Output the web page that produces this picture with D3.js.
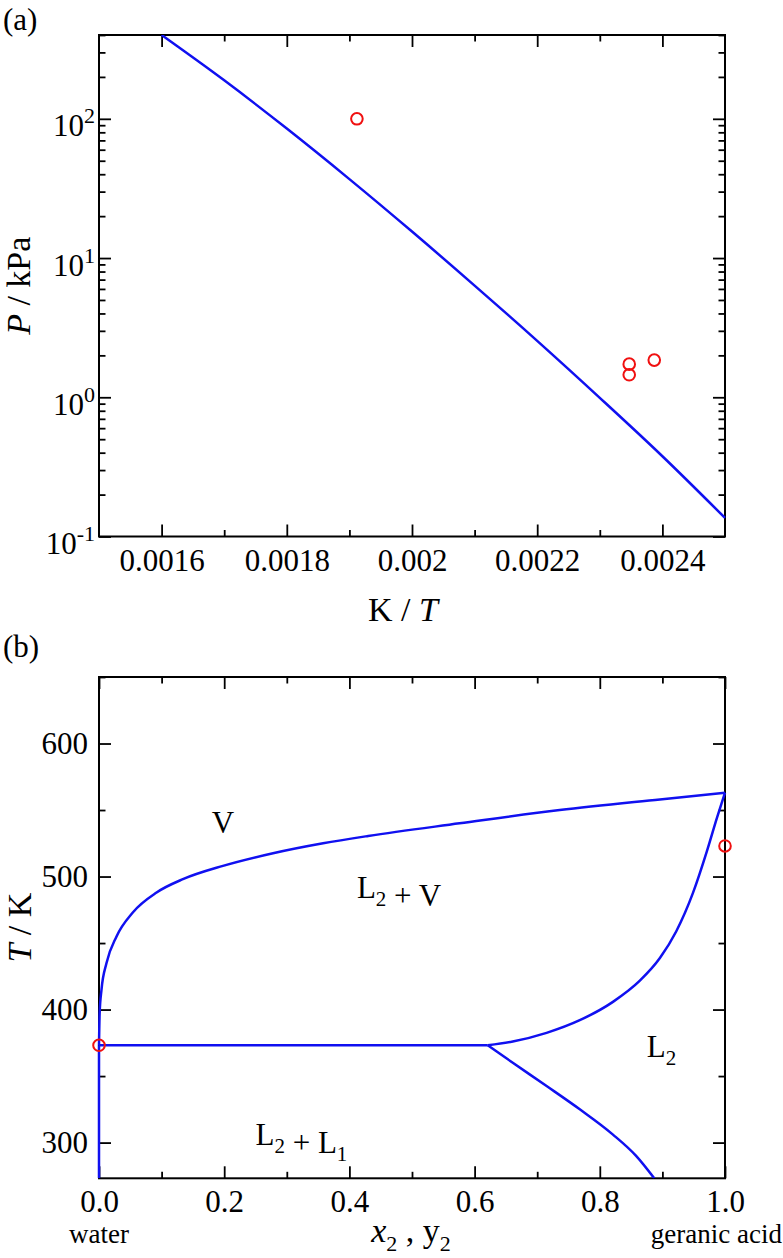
<!DOCTYPE html>
<html>
<head>
<meta charset="utf-8">
<script src="https://cdn.jsdelivr.net/npm/d3@7"></script>
<style>
  body { margin: 0; background: #fff; }
  svg { display: block; }
  text { font-family: "Liberation Serif", "Times New Roman", serif; fill: #000; }
  .tick line { stroke: #000; stroke-width: 1.8px; }
  .frame { fill: none; stroke: #000; stroke-width: 2px; }
  .curve { fill: none; stroke: #1010f0; stroke-width: 2.5px; }
  .pt { fill: none; stroke: #f01010; stroke-width: 2px; }
</style>
</head>
<body>
<script>
// ---- panel (a): vapour pressure of geranic acid ----
const invT = [0.0016, 0.0017, 0.0018, 0.0019, 0.0020, 0.0021, 0.0022, 0.0023, 0.0024, 0.0025];
const pModel = [400, 189, 85.1, 36.9, 15.5, 6.34, 2.54, 0.99, 0.377, 0.136];
const expInvT = [0.001912, 0.002347, 0.002347, 0.002387];
const expP = [100, 1.73, 1.45, 1.85];
const xTicksA = [0.0016, 0.0018, 0.0020, 0.0022, 0.0024];
const xMinorA = [0.0017, 0.0019, 0.0021, 0.0023];
const yTicksA = [0.1, 1, 10, 100];

// ---- panel (b): T-x diagram water / geranic acid ----
const dewX = [0, 0.001, 0.004, 0.012, 0.028, 0.054, 0.092, 0.134, 0.198, 0.278, 0.358, 0.43, 0.576, 0.736, 0.896, 1.0];
const dewT = [373.15, 397, 415, 435, 455, 473, 488, 498, 508, 517.5, 525, 530.5, 540, 550, 558, 563];
const bubX = [0.621, 0.661, 0.715, 0.768, 0.821, 0.864, 0.896, 0.922, 0.949, 0.971, 0.987, 1.0];
const bubT = [373.15, 376, 382.5, 392, 405.8, 421.7, 438.7, 458.7, 487.9, 518.9, 543.9, 563];
const llX = [0.621, 0.661, 0.715, 0.768, 0.821, 0.858, 0.887];
const llT = [373.15, 360, 342.5, 325, 306, 290, 273.15];
const vleX = [0, 0.621];
const vleT = [373.15, 373.15];
const l1X = [0, 0];
const l1T = [373.15, 273.15];
const expX = [0, 1.0];
const expT = [373.15, 523];
const xTicksB = [0, 0.2, 0.4, 0.6, 0.8, 1.0];
const xMinorB = [0.1, 0.3, 0.5, 0.7, 0.9];
const yTicksB = [300, 400, 500, 600];
const yMinorB = [350, 450, 550, 650];

const W = 783, H = 1258;
const TICK_FONT = "31px";
const MAJOR = 12, MINOR = 6.5;

// plot boxes
var boxA = { left: 99, top: 35, width: 626, height: 501.5 },
    boxB = { left: 99, top: 677, width: 626, height: 501.3 };

const svg = d3.select("body").append("svg")
    .attr("width", W)
    .attr("height", H);

function zip(a, b) {
    return a.map(function (d, i) { return [d, b[i]]; });
}

// ticks on all four sides, pointing inwards
function drawTicks(g, x, y, box, opts) {
    var bottom = g.append("g").attr("transform", "translate(0," + box.height + ")")
        .call(d3.axisBottom(x).tickValues(opts.xMajor).tickSize(-MAJOR).tickPadding(12).tickFormat(opts.xFormat));
    bottom.style("font-size", TICK_FONT);
    g.append("g").attr("transform", "translate(0," + box.height + ")")
        .call(d3.axisBottom(x).tickValues(opts.xMinor).tickSize(-MINOR).tickFormat(""));
    g.append("g").call(d3.axisTop(x).tickValues(opts.xMajor).tickSize(-MAJOR).tickFormat(""));
    g.append("g").call(d3.axisTop(x).tickValues(opts.xMinor).tickSize(-MINOR).tickFormat(""));

    var left = g.append("g")
        .call(d3.axisLeft(y).tickValues(opts.yMajor).tickSize(-MAJOR).tickPadding(opts.yPad).tickFormat(opts.yFormat));
    left.style("font-size", TICK_FONT);
    g.append("g").call(d3.axisLeft(y).tickValues(opts.yMinor).tickSize(-MINOR).tickFormat(""));
    g.append("g").attr("transform", "translate(" + box.width + ",0)")
        .call(d3.axisRight(y).tickValues(opts.yMajor).tickSize(-MAJOR).tickFormat(""));
    g.append("g").attr("transform", "translate(" + box.width + ",0)")
        .call(d3.axisRight(y).tickValues(opts.yMinor).tickSize(-MINOR).tickFormat(""));

    g.selectAll(".domain").remove();
    g.selectAll("text").attr("font-family", null).attr("fill", null);
    g.append("rect").attr("class", "frame")
        .attr("width", box.width).attr("height", box.height);
    return left;
}

function clipFor(g, id, box) {
    g.append("clipPath").attr("id", id)
        .append("rect").attr("x", -3).attr("y", 0)
        .attr("width", box.width + 6).attr("height", box.height);
}

// ================= (a) =================
var gA = svg.append("g").attr("transform", "translate(" + boxA.left + "," + boxA.top + ")");
var xA = d3.scaleLinear().domain([0.0015, 0.0025]).range([0, boxA.width]);
var yA = d3.scaleLog().domain([0.1, 400]).range([boxA.height, 0]);

var yMinorA = [];
[0.1, 1, 10, 100].forEach(function (dec) {
    for (var k = 2; k <= 9; k++) {
        if (k * dec <= 400) yMinorA.push(k * dec);
    }
});

var leftA = drawTicks(gA, xA, yA, boxA, {
    xMajor: xTicksA, xMinor: xMinorA,
    xFormat: function (d) { return String(+d.toFixed(4)); },
    yMajor: yTicksA, yMinor: yMinorA, yPad: 4,
    yFormat: function () { return ""; }
});

// 10^n labels with superscript
leftA.selectAll(".tick").each(function (d) {
    var t = d3.select(this).select("text")
        .attr("dy", null).attr("y", 17).attr("x", -4)
        .attr("text-anchor", "end");
    t.append("tspan").text("10");
    t.append("tspan").attr("dy", -13).style("font-size", "22px")
        .text(Math.round(Math.log10(d)));
});

clipFor(gA, "clipA", boxA);
var lineA = d3.line()
    .x(function (d) { return xA(d[0]); })
    .y(function (d) { return yA(d[1]); })
    .curve(d3.curveMonotoneX);

gA.append("path").datum(zip(invT, pModel))
    .attr("class", "curve").attr("clip-path", "url(#clipA)")
    .attr("d", lineA);

gA.selectAll(".pt").data(zip(expInvT, expP)).enter()
    .append("circle").attr("class", "pt").attr("r", 5.8)
    .attr("cx", function (d) { return xA(d[0]); })
    .attr("cy", function (d) { return yA(d[1]); });

// axis titles (a)
var tA = svg.append("text").attr("x", 403).attr("y", 621)
    .attr("text-anchor", "middle").style("font-size", "34px");
tA.append("tspan").text("K / ");
tA.append("tspan").style("font-style", "italic").text("T");

var pA = svg.append("text")
    .attr("transform", "translate(30," + (boxA.top + boxA.height / 2) + ") rotate(-90)")
    .attr("text-anchor", "middle").style("font-size", "34px");
pA.append("tspan").style("font-style", "italic").text("P");
pA.append("tspan").text(" / kPa");

svg.append("text").attr("x", 3).attr("y", 30).style("font-size", "31px").text("(a)");

// ================= (b) =================
var gB = svg.append("g").attr("transform", "translate(" + boxB.left + "," + boxB.top + ")");
var xB = d3.scaleLinear().domain([0, 1]).range([0, boxB.width]);
var yB = d3.scaleLinear().domain([273.15, 650]).range([boxB.height, 0]);

drawTicks(gB, xB, yB, boxB, {
    xMajor: xTicksB, xMinor: xMinorB,
    xFormat: d3.format(".1f"),
    yMajor: yTicksB, yMinor: yMinorB, yPad: 11,
    yFormat: d3.format("d")
});

clipFor(gB, "clipB", boxB);
var lineB = d3.line()
    .x(function (d) { return xB(d[0]); })
    .y(function (d) { return yB(d[1]); })
    .curve(d3.curveMonotoneX);

[zip(dewX, dewT), zip(bubX, bubT), zip(llX, llT), zip(vleX, vleT)].forEach(function (s) {
    gB.append("path").datum(s)
        .attr("class", "curve").attr("clip-path", "url(#clipB)")
        .attr("d", lineB);
});
// vertical L1 boundary (x = 0) drawn straight
gB.append("path").datum(zip(l1X, l1T))
    .attr("class", "curve").attr("clip-path", "url(#clipB)")
    .attr("d", d3.line().x(function (d) { return xB(d[0]); }).y(function (d) { return yB(d[1]); }));

gB.selectAll(".pt").data(zip(expX, expT)).enter()
    .append("circle").attr("class", "pt").attr("r", 5.8)
    .attr("cx", function (d) { return xB(d[0]); })
    .attr("cy", function (d) { return yB(d[1]); });

// phase region labels
function phaseLabel(x, t, parts) {
    var el = gB.append("text").attr("x", xB(x)).attr("y", yB(t)).style("font-size", "31px");
    parts.forEach(function (p) {
        if (p.sub) {
            el.append("tspan").attr("dy", 8).style("font-size", "21px").text(p.sub);
            el.append("tspan").attr("dy", -8).text("");
        } else {
            el.append("tspan").text(p.t);
        }
    });
}
phaseLabel(0.18, 532.7, [{ t: "V" }]);
phaseLabel(0.412, 483.8, [{ t: "L" }, { sub: "2" }, { t: "\u00a0+ V" }]);
phaseLabel(0.875, 364.4, [{ t: "L" }, { sub: "2" }]);
phaseLabel(0.25, 298, [{ t: "L" }, { sub: "2" }, { t: "\u00a0+ L" }, { sub: "1" }]);

// axis titles (b)
var tB = svg.append("text")
    .attr("transform", "translate(31," + (boxB.top + boxB.height / 2) + ") rotate(-90)")
    .attr("text-anchor", "middle").style("font-size", "34px");
tB.append("tspan").style("font-style", "italic").text("T");
tB.append("tspan").text(" / K");

var xt = svg.append("text").attr("x", 411).attr("y", 1242)
    .attr("text-anchor", "middle").style("font-size", "34px");
xt.append("tspan").style("font-style", "italic").text("x");
xt.append("tspan").attr("dy", 9).style("font-size", "22px").text("2");
xt.append("tspan").attr("dy", -9).text(" , y");
xt.append("tspan").attr("dy", 9).style("font-size", "22px").text("2");

svg.append("text").attr("x", boxB.left).attr("y", 1243)
    .attr("text-anchor", "middle").style("font-size", "27px").text("water");
svg.append("text").attr("x", 782).attr("y", 1243)
    .attr("text-anchor", "end").style("font-size", "27px").text("geranic acid");

svg.append("text").attr("x", 3).attr("y", 657).style("font-size", "31px").text("(b)");
</script>
</body>
</html>
